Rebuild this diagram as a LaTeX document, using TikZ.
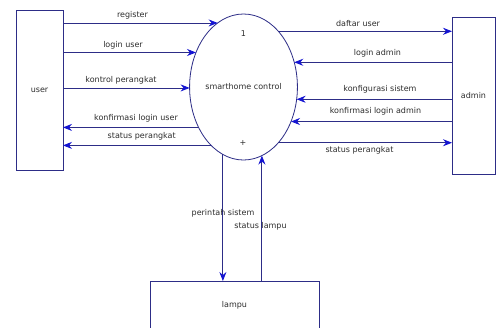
\documentclass[tikz,border=0pt]{standalone}
\usepackage{fontspec}
\setmainfont{DejaVu Sans}
\usetikzlibrary{shapes.geometric,arrows.meta}
\definecolor{linec}{RGB}{45,45,135}
\definecolor{tipc}{RGB}{20,20,210}
\definecolor{txtc}{RGB}{45,45,45}
\begin{document}
\begin{tikzpicture}[x=1pt,y=-1pt,
  every node/.style={font=\fontsize{8}{9}\selectfont, text=txtc},
  entity/.style={draw=linec, line width=0.8pt, rectangle, inner sep=0pt, outer sep=0pt},
  proc/.style={draw=linec, line width=0.8pt, ellipse, minimum width=103pt, minimum height=146pt, inner sep=0pt, outer sep=0pt},
  flow/.style={draw=linec, line width=0.8pt, -{Stealth[length=9pt,width=7pt,inset=3pt,fill=tipc,color=tipc]}},
  lbl/.style={inner sep=0pt}]
\useasboundingbox (0,0) rectangle (497,327);
\clip (0,0) rectangle (497,327);
\fill[white] (0,0) rectangle (497,327);
% entities
\node[entity, minimum width=47pt, minimum height=160pt] (user) at (39.5,90) {user};
\node[entity, minimum width=43pt, minimum height=157pt] (admin) at (473.5,95.5) {admin};
\node[entity, minimum width=169pt, minimum height=48pt] (lampu) at (234.5,305) {lampu};
% process
\node[proc] (p) at (243.5,87) {smarthome control};
\node[lbl] (pnum) at (243.3,33.3) {1};
\node[lbl] (pplus) at (243,142.7) {+};
% user flows
\draw[flow] (user.east |- p.112.4) -- (p.112.4);
\draw[flow] (user.east |- p.144.8) -- (p.144.8);
\draw[flow] (user.east |- p.181.1) -- (p.181.1);
\draw[flow] (p.222.9) -- (p.222.9 -| user.east);
\draw[flow] (p.241.5) -- (p.241.5 -| user.east);
% admin flows
\draw[flow] (p.58.4) -- (p.58.4 -| admin.west);
\draw[flow] (admin.west |- p.26.3) -- (p.26.3);
\draw[flow] (admin.west |- p.347.8) -- (p.347.8);
\draw[flow] (admin.west |- p.324.3) -- (p.324.3);
\draw[flow] (p.302.6) -- (p.302.6 -| admin.west);
% lampu flows
\draw[flow] (p.253.9) -- (p.253.9 |- lampu.north);
\draw[flow] (lampu.north -| p.285.2) -- (p.285.2);
% labels
\node[lbl] (l1) at (132.5,15) {register};
\node[lbl] (l2) at (123,45.7) {login user};
\node[lbl] (l3) at (121,80) {kontrol perangkat};
\node[lbl] (l4) at (136,118) {konfirmasi login user};
\node[lbl] (l5) at (141.7,136.7) {status perangkat};
\node[lbl] (l6) at (358,23.3) {daftar user};
\node[lbl] (l7) at (377.5,53.3) {login admin};
\node[lbl] (l8) at (380,89) {konfigurasi sistem};
\node[lbl] (l9) at (375.5,111) {konfirmasi login admin};
\node[lbl] (l10) at (359.5,150.7) {status perangkat};
\node[lbl] (l11) at (223,213) {perintah sistem};
\node[lbl] (l12) at (260.5,226) {status lampu};
\end{tikzpicture}
\end{document}
